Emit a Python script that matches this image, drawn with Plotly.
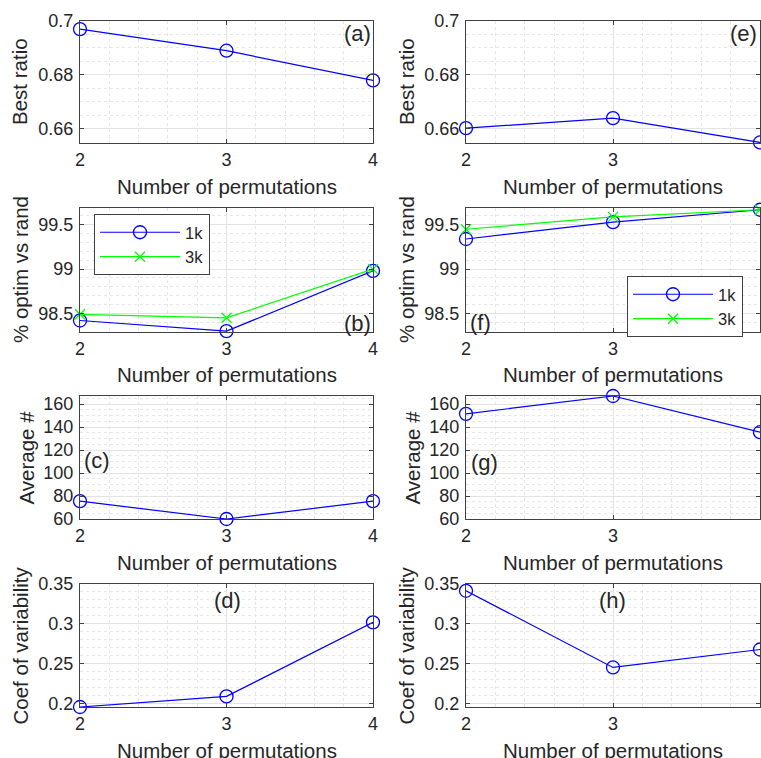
import plotly.graph_objects as go

# ---------------- data ----------------
x_perm = [2, 3, 4]
x_ticks = [2, 3, 4]

best_ratio_left = [0.697, 0.689, 0.678]
best_ratio_right = [0.6603, 0.664, 0.655]
optim_left_1k = [98.42, 98.30, 98.98]
optim_left_3k = [98.49, 98.45, 99.00]
optim_right_1k = [99.34, 99.53, 99.67]
optim_right_3k = [99.45, 99.59, 99.67]
avg_left = [75.5, 60, 75.5]
avg_right = [151.5, 167, 135.5]
cov_left = [0.196, 0.2093, 0.302]
cov_right = [0.3415, 0.2455, 0.268]

series_names = ["1k", "3k"]
panel_labels = ["(a)", "(b)", "(c)", "(d)", "(e)", "(f)", "(g)", "(h)"]
y_titles = ["Best ratio", "% optim vs rand", "Average #", "Coef of variability"]
x_title = "Number of permutations"

ticks_a = [0.66, 0.68, 0.7]
ticktext_a = ["0.66", "0.68", "0.7"]
ticks_b = [98.5, 99, 99.5]
ticktext_b = ["98.5", "99", "99.5"]
ticks_c = [60, 80, 100, 120, 140, 160]
ticktext_c = ["60", "80", "100", "120", "140", "160"]
ticks_d = [0.2, 0.25, 0.3, 0.35]
ticktext_d = ["0.2", "0.25", "0.3", "0.35"]

# ---------------- layout geometry (pixels) ----------------
W, H = 761, 758
COLS = [(80, 373), (466, 760)]
ROWS = [(21, 143), (208, 332), (396, 519), (584, 707)]
YRANGES = [(0.6548, 0.7), (98.29, 99.69), (60, 167), (0.196, 0.35)]
YTICKS = [(ticks_a, ticktext_a), (ticks_b, ticktext_b), (ticks_c, ticktext_c), (ticks_d, ticktext_d)]
YMINOR = [0.005, 0.1, 5, 0.01]
YTITLE_X = [[20, 20, 26, 20], [407, 406, 412, 406]]

FONT = "Arial, 'Liberation Sans', Helvetica, sans-serif"
TXT = "#262626"
AXC = "#404040"
GRID = "#e3e3e3"
MINOR_GRID = "#e6e6e6"
BLUE = "#0000ff"
GREEN = "#00ff00"


def px(x):
    return x / W


def py(y):
    return 1 - y / H


fig = go.Figure()

panel_data = [
    [(best_ratio_left, None), (optim_left_1k, optim_left_3k), (avg_left, None), (cov_left, None)],
    [(best_ratio_right, None), (optim_right_1k, optim_right_3k), (avg_right, None), (cov_right, None)],
]

annotations = []
layout = {}
idx = 0
for c in range(2):
    for r in range(4):
        idx += 1
        xa = "xaxis" if idx == 1 else f"xaxis{idx}"
        ya = "yaxis" if idx == 1 else f"yaxis{idx}"
        xr = "x" if idx == 1 else f"x{idx}"
        yr = "y" if idx == 1 else f"y{idx}"
        x0, x1 = COLS[c]
        y0, y1 = ROWS[r]
        layout[xa] = dict(
            domain=[px(x0), px(x1)], anchor=yr, range=[2, 4], automargin=False,
            tickmode="array", tickvals=x_ticks, ticktext=[str(t) for t in x_ticks],
            ticks="inside", ticklen=4, tickcolor=AXC, tickwidth=1,
            showline=True, linecolor=AXC, linewidth=1, mirror="ticks",
            showgrid=True, gridcolor=GRID, gridwidth=1, zeroline=False,
            tickfont=dict(family=FONT, size=18, color=TXT),
            ticklabelstandoff=0,
            minor=dict(tickmode="linear", tick0=2, dtick=0.2, showgrid=True,
                       gridcolor=MINOR_GRID, griddash="dot", gridwidth=1, ticks=""),
        )
        tv, tt = YTICKS[r]
        layout[ya] = dict(
            domain=[py(y1), py(y0)], anchor=xr, range=list(YRANGES[r]), automargin=False,
            tickmode="array", tickvals=tv, ticktext=tt,
            ticks="inside", ticklen=4, tickcolor=AXC, tickwidth=1,
            showline=True, linecolor=AXC, linewidth=1, mirror="ticks",
            showgrid=True, gridcolor=GRID, gridwidth=1, zeroline=False,
            tickfont=dict(family=FONT, size=18, color=TXT),
            ticklabelstandoff=2,
            minor=dict(tickmode="linear", tick0=tv[0], dtick=YMINOR[r], showgrid=True,
                       gridcolor=MINOR_GRID, griddash="dot", gridwidth=1, ticks=""),
        )
        s1, s2 = panel_data[c][r]
        leg = "legend" if c == 0 else "legend2"
        fig.add_trace(go.Scatter(
            x=x_perm, y=s1, xaxis=xr, yaxis=yr, mode="lines+markers",
            name=series_names[0], showlegend=(s2 is not None), legend=leg,
            line=dict(color=BLUE, width=1.2),
            marker=dict(symbol="circle-open", size=13, color=BLUE, line=dict(width=1.3)),
            cliponaxis=False,
        ))
        if s2 is not None:
            fig.add_trace(go.Scatter(
                x=x_perm, y=s2, xaxis=xr, yaxis=yr, mode="lines+markers",
                name=series_names[1], showlegend=True, legend=leg,
                line=dict(color=GREEN, width=1.2),
                marker=dict(symbol="x-thin-open", size=10, color=GREEN, line=dict(width=1.3, color=GREEN)),
                cliponaxis=False,
            ))
        annotations.append(dict(
            text=x_title, xref="paper", yref="paper",
            x=px((x0 + x1) / 2), y=py(y1 + 43), xanchor="center", yanchor="middle",
            showarrow=False, font=dict(family=FONT, size=20.5, color=TXT)))
        annotations.append(dict(
            text=y_titles[r], xref="paper", yref="paper", textangle=-90,
            x=px(YTITLE_X[c][r]), y=py((y0 + y1) / 2), xanchor="center", yanchor="middle",
            showarrow=False, font=dict(family=FONT, size=20.5, color=TXT)))

label_pos = {
    "(a)": (357, 33), "(b)": (357, 323), "(c)": (97, 460), "(d)": (227, 600),
    "(e)": (743, 33), "(f)": (481, 322), "(g)": (484, 462), "(h)": (612, 600),
}
for lab in panel_labels:
    lx, ly = label_pos[lab]
    annotations.append(dict(
        text=lab, xref="paper", yref="paper", x=px(lx), y=py(ly),
        xanchor="center", yanchor="middle", showarrow=False,
        font=dict(family=FONT, size=22, color=TXT)))

legend_common = dict(
    bgcolor="white", bordercolor=AXC, borderwidth=1,
    font=dict(family=FONT, size=16.5, color=TXT),
    itemwidth=80, tracegroupgap=0, xanchor="left", yanchor="top",
)

fig.update_layout(
    width=W, height=H, autosize=False,
    margin=dict(l=0, r=0, t=0, b=0, pad=0, autoexpand=False),
    paper_bgcolor="white", plot_bgcolor="white",
    font=dict(family=FONT, color=TXT),
    annotations=annotations,
    legend=dict(x=px(94), y=py(214), **legend_common),
    legend2=dict(x=px(627), y=py(276), **legend_common),
    **layout,
)

fig.write_html(
    "out.html",
    config={"displayModeBar": False, "responsive": False},
    post_script=(
        "document.documentElement.style.margin='0';"
        "document.documentElement.style.overflow='hidden';"
        "document.body.style.margin='0';document.body.style.overflow='hidden';"
        "var d=document.getElementById('{plot_id}');"
        "d.style.position='fixed';d.style.left='0px';d.style.top='0px';"
    ),
)
